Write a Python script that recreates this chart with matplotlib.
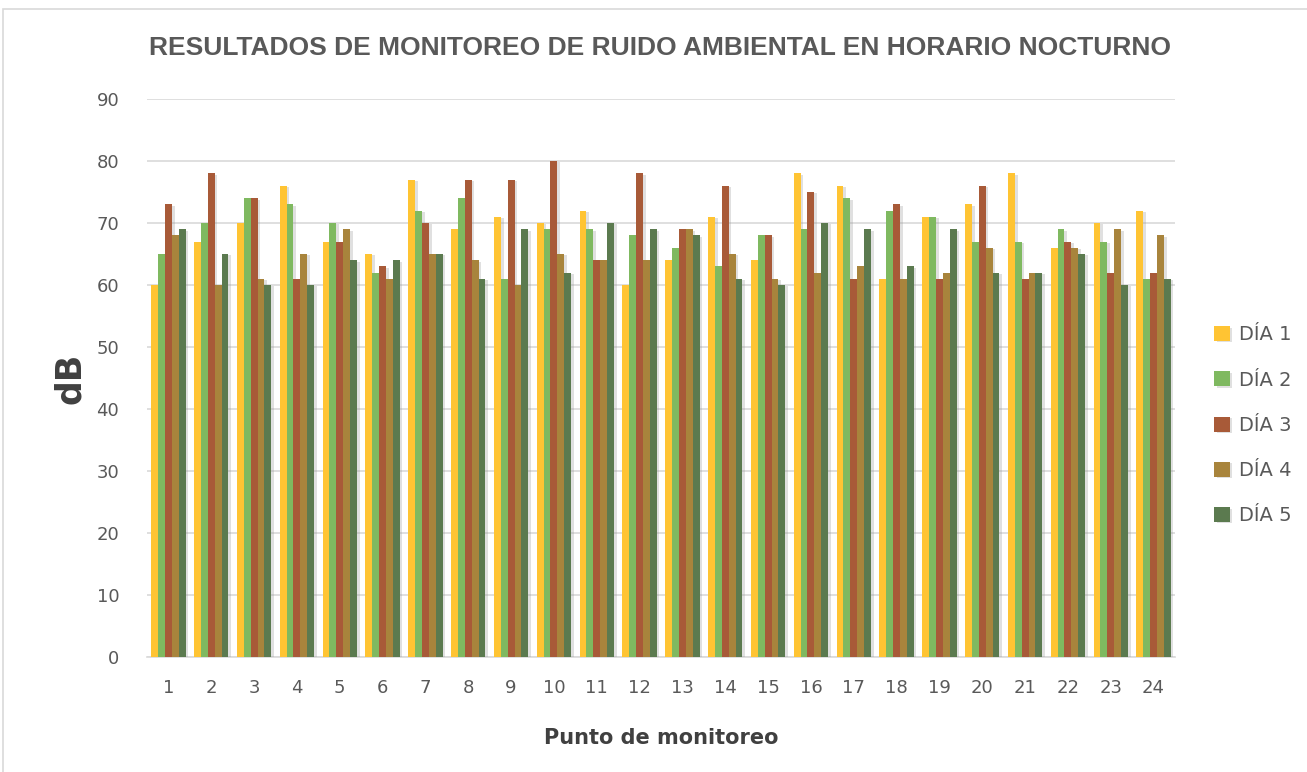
import numpy as np
import matplotlib
matplotlib.use('Agg')
import matplotlib.pyplot as plt
import matplotlib.patheffects as pe
from matplotlib.patches import Rectangle

# data
puntos = [str(i) for i in range(1, 25)]
dia1 = [60, 67, 70, 76, 67, 65, 77, 69, 71, 70, 72, 60, 64, 71, 64, 78, 76, 61, 71, 73, 78, 66, 70, 72]
dia2 = [65, 70, 74, 73, 70, 62, 72, 74, 61, 69, 69, 68, 66, 63, 68, 69, 74, 72, 71, 67, 67, 69, 67, 61]
dia3 = [73, 78, 74, 61, 67, 63, 70, 77, 77, 80, 64, 78, 69, 76, 68, 75, 61, 73, 61, 76, 61, 67, 62, 62]
dia4 = [68, 60, 61, 65, 69, 61, 65, 64, 60, 65, 64, 64, 69, 65, 61, 62, 63, 61, 62, 66, 62, 66, 69, 68]
dia5 = [69, 65, 60, 60, 64, 64, 65, 61, 69, 62, 70, 69, 68, 61, 60, 70, 69, 63, 69, 62, 62, 65, 60, 61]
series = ['DÍA 1', 'DÍA 2', 'DÍA 3', 'DÍA 4', 'DÍA 5']
colors = ['#FFC433', '#7FB960', '#A85A38', '#A8843C', '#5B7A4F']

fig = plt.figure(figsize=(13.07, 7.72), dpi=100)
ax = fig.add_axes([147/1307, 1 - 657/772, (1175-147)/1307, (657-99)/772])

x = np.arange(len(puntos))
w = 0.16
shadow = [pe.SimplePatchShadow(offset=(2, -1), shadow_rgbFace='#999999', alpha=0.3), pe.Normal()]
for i, (vals, name, col) in enumerate(zip([dia1, dia2, dia3, dia4, dia5], series, colors)):
    bars = ax.bar(x + (i - 2) * w, vals, width=w, color=col, label=name, zorder=3)
    for b in bars:
        b.set_path_effects(shadow)

ax.set_ylim(0, 90)
ax.set_xlim(-0.5, len(puntos) - 0.5)
ax.set_yticks(range(0, 91, 10))
ax.set_xticks(x)
ax.set_xticklabels(puntos)
ax.grid(axis='y', color='#D9D9D9', linewidth=1.2, zorder=0)
ax.set_axisbelow(True)
for s in ['top', 'right', 'left']:
    ax.spines[s].set_visible(False)
ax.spines['bottom'].set_color('#D9D9D9')
ax.spines['bottom'].set_linewidth(1.2)
ax.tick_params(length=0, labelsize=13, colors='#595959', pad=16)
ax.tick_params(axis='y', pad=20)

ax.set_ylabel('dB', fontsize=25, fontweight='bold', color='#404040', labelpad=7)
ax.set_xlabel('Punto de monitoreo', fontsize=15, fontweight='bold', color='#404040', labelpad=22)

fig.text(660/1307, 1 - 48/772, 'RESULTADOS DE MONITOREO DE RUIDO AMBIENTAL EN HORARIO NOCTURNO',
         ha='center', va='center', fontsize=19, fontweight='bold', color='#595959',
         family=['Liberation Sans Narrow', 'Liberation Sans', 'DejaVu Sans'])

leg = ax.legend(loc='center left', bbox_to_anchor=(1.021, 0.415), frameon=False, fontsize=14,
                labelspacing=1.35, handlelength=0.8, handleheight=0.8, handletextpad=0.5)
for t in leg.get_texts():
    t.set_color('#595959')

# outer chart frame
fig.patches.append(Rectangle((3/1307, -0.01), 1.1, 1 - 9/772 + 0.01, transform=fig.transFigure,
                             fill=False, edgecolor='#D9D9D9', linewidth=1.2))

fig.savefig('out.png', dpi=100)
